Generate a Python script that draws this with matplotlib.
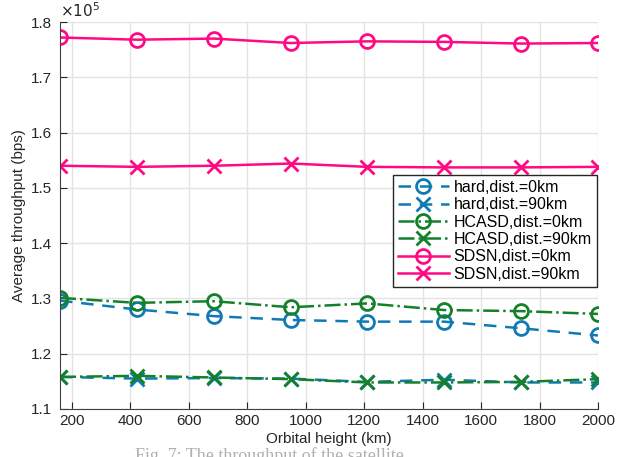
import numpy as np
import matplotlib.pyplot as plt

plt.rcParams.update({
    "font.family": ["Liberation Sans", "DejaVu Sans"],
    "font.size": 11,
})

height = [160, 423, 686, 949, 1211, 1474, 1737, 2000]

hard_0 = [1.296, 1.280, 1.268, 1.261, 1.258, 1.258, 1.246, 1.233]
hard_90 = [1.158, 1.155, 1.156, 1.155, 1.149, 1.153, 1.148, 1.148]
hcasd_0 = [1.301, 1.292, 1.295, 1.284, 1.291, 1.279, 1.277, 1.272]
hcasd_90 = [1.158, 1.160, 1.157, 1.154, 1.148, 1.148, 1.149, 1.154]
sdsn_0 = [1.772, 1.768, 1.770, 1.762, 1.765, 1.764, 1.761, 1.762]
sdsn_90 = [1.540, 1.538, 1.540, 1.544, 1.538, 1.537, 1.537, 1.538]

labels = ["hard,dist.=0km", "hard,dist.=90km", "HCASD,dist.=0km",
          "HCASD,dist.=90km", "SDSN,dist.=0km", "SDSN,dist.=90km"]

blue = "#0f7ab4"
green = "#14802a"
pink = "#ff0a84"

fig = plt.figure(figsize=(6.3, 4.57), dpi=100)
ax = fig.add_axes([60/630, 1 - 409/457, (598-60)/630, (409-22)/457])

x = np.array(height)
kw = dict(markersize=10, markerfacecolor="none", markeredgewidth=2, linewidth=1.8)
ax.plot(x, hard_0, "o", linestyle=(0, (5, 3.5)), color=blue, label=labels[0], **kw)
ax.plot(x, hard_90, "x", linestyle=(0, (5, 3.5)), color=blue, label=labels[1], **kw)
ax.plot(x, hcasd_0, "-.o", color=green, label=labels[2], **kw)
ax.plot(x, hcasd_90, "-.x", color=green, label=labels[3], **kw)
ax.plot(x, sdsn_0, "-o", color=pink, label=labels[4], **kw)
ax.plot(x, sdsn_90, "-x", color=pink, label=labels[5], **kw)

ax.set_xlim(160, 2000)
ax.set_ylim(1.1, 1.8)
ax.set_xticks(np.arange(200, 2001, 200))
ax.set_yticks(np.arange(1.1, 1.81, 0.1))
ax.set_yticklabels(["%.1f" % v for v in np.arange(1.1, 1.81, 0.1)])
ax.grid(True, color="#e3e3e3", linewidth=1)
ax.set_axisbelow(True)
for s in ["top", "right"]:
    ax.spines[s].set_visible(False)
for s in ["left", "bottom"]:
    ax.spines[s].set_color("#404040")
ax.tick_params(direction="in", length=5, colors="#262626", labelcolor="#262626")
ax.tick_params(axis="y", pad=6)

ax.set_xlabel("Orbital height (km)", color="#262626", labelpad=3)
ax.set_ylabel("Average throughput (bps)", color="#262626", labelpad=3)
ax.text(0.0, 1.005, r"$\times10^{5}$", transform=ax.transAxes, fontsize=11,
        color="#262626", va="bottom", ha="left")

leg = ax.legend(loc="upper left", bbox_to_anchor=(333/538, 1 - 153/387),
                handlelength=3.2, handletextpad=0.3, borderpad=0.3,
                labelspacing=0.15, fancybox=False, framealpha=1,
                edgecolor="#262626", fontsize=11.5, borderaxespad=0)
leg.get_frame().set_linewidth(1)

fig.text(135/630, 1 - 447/457, "Fig. 7: The throughput of the satellite",
         family="Liberation Serif", fontsize=13, color="#b0b0b0",
         va="top", ha="left")

fig.savefig("out.png", dpi=100)
